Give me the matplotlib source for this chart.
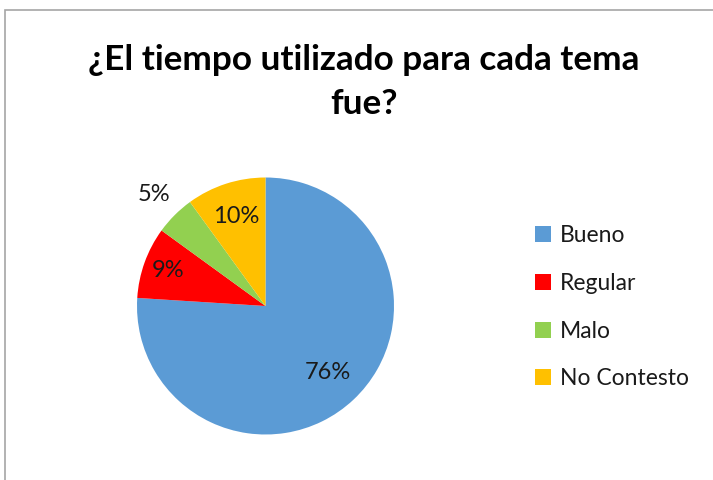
import matplotlib
matplotlib.use("Agg")
import matplotlib.pyplot as plt
from matplotlib.patches import Rectangle, Patch
import numpy as np

categories = ["Bueno", "Regular", "Malo", "No Contesto"]
values = [76, 9, 5, 10]
labels_pct = ["76%", "9%", "5%", "10%"]
colors = ["#5B9BD5", "#FF0000", "#92D050", "#FFC000"]
label_dist = [0.71, 0.81, 1.23, 0.73]

W, H = 713, 480
fig = plt.figure(figsize=(W / 100, H / 100), dpi=100)
plt.rcParams['font.family'] = ['Lato', 'DejaVu Sans']

# border (top and left visible)
fig.add_artist(Rectangle((5 / W, -0.1), 1.2, (H - 10) / H + 0.1, transform=fig.transFigure,
                         fill=False, edgecolor="#A6A6A6", linewidth=1.2))

cx, cy, r = 265.5, 306, 128.5
ax = fig.add_axes([(cx - r) / W, (H - cy - r) / H, 2 * r / W, 2 * r / H])
wedges, _ = ax.pie(values, colors=colors, startangle=90, counterclock=False,
                   radius=1, wedgeprops=dict(linewidth=0))
ax.set_xlim(-1, 1)
ax.set_ylim(-1, 1)
ax.set_aspect("equal")
ax.axis("off")

for w, lab, d in zip(wedges, labels_pct, label_dist):
    ang = np.deg2rad((w.theta1 + w.theta2) / 2)
    ax.text(d * np.cos(ang), d * np.sin(ang), lab, ha="center", va="center",
            fontsize=17, color="#1a1a1a", clip_on=False)

fig.text(364 / W, 1 - 60 / H, "¿El tiempo utilizado para cada tema", ha="center", va="center",
         fontsize=25.3, fontweight="bold", color="black")
fig.text(364 / W, 1 - 104 / H, "fue?", ha="center", va="center",
         fontsize=25.3, fontweight="bold", color="black")

handles = [Patch(facecolor=c, edgecolor="none") for c in colors]
leg = fig.legend(handles, categories, loc="upper left", bbox_to_anchor=(535 / W, 1 - 225 / H),
                 frameon=False, fontsize=16.5, handlelength=0.7, handleheight=0.7,
                 handletextpad=0.4, labelspacing=1.17, borderpad=0, borderaxespad=0)
for t in leg.get_texts():
    t.set_color("#1a1a1a")

fig.savefig("out.png", dpi=100)
